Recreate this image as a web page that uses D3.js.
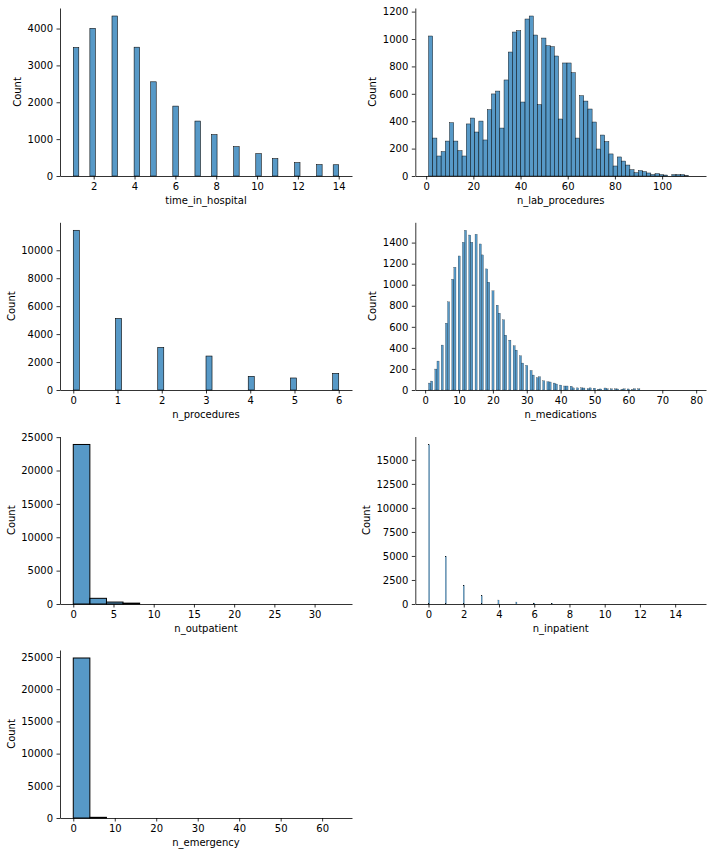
<!DOCTYPE html>
<html><head><meta charset="utf-8">
<script src="https://cdn.jsdelivr.net/npm/d3@7"></script>
<style>
body{margin:0;background:#fff}
svg text{font-family:"DejaVu Sans",sans-serif}
</style>
</head><body>
<svg id="chart" width="712" height="856"></svg>
<script>
// ---------------- DATA ----------------
// time_in_hospital: count per integer value
const timeValues = [1,2,3,4,5,6,7,8,9,10,11,12,13,14];
const timeCounts = [3485,4005,4340,3494,2555,1896,1490,1120,795,605,470,361,307,305];
const timeXTicks = [2,4,6,8,10,12,14];
const timeYTicks = [0,1000,2000,3000,4000];

// n_lab_procedures: counts per histogram bin (63 bins over 1..113)
const labRange = [1,113];
const labBinCounts = [1022,277,146,178,255,389,255,185,146,380,
  423,321,401,263,484,599,620,350,701,905,
  1051,1061,540,1146,1168,1029,521,1007,951,944,
  876,416,825,825,754,277,586,547,489,394,
  197,299,251,161,73,139,109,80,46,24,
  39,32,22,10,17,10,7,2,10,10,
  10,3,2];
const labXTicks = [0,20,40,60,80,100];
const labYTicks = [0,200,400,600,800,1000,1200];

// n_procedures: count per integer value
const procValues = [0,1,2,3,4,5,6];
const procCounts = [11430,5120,3050,2430,980,860,1190];
const procXTicks = [0,1,2,3,4,5,6];
const procYTicks = [0,2000,4000,6000,8000,10000];

// n_medications: count per integer value 1..79
const medValues = d3.range(1,80);
const medCounts = [66,85,199,275,427,635,837,1052,1166,1273,
  1403,1517,1472,1403,1479,1387,1283,1150,1024,942,
  806,730,667,521,474,420,379,325,256,234,
  186,142,117,126,88,79,76,66,57,47,
  38,38,36,20,20,21,19,13,20,18,
  8,10,19,11,11,11,10,6,11,10,
  4,12,11,3,2,2,1,2,1,1,
  0,1,0,1,1,0,0,0,1];
const medXTicks = [0,10,20,30,40,50,60,70,80];
const medYTicks = [0,200,400,600,800,1000,1200,1400];

// n_outpatient: counts per histogram bin (16 bins over 0..33)
const outRange = [0,33];
const outBinCounts = [23900,850,290,130,35,15,8,4,2,1,1,0,0,1,0,1];
const outXTicks = [0,5,10,15,20,25,30];
const outYTicks = [0,5000,10000,15000,20000,25000];

// n_inpatient: count per integer value 0..15
const inpValues = d3.range(0,16);
const inpCounts = [16600,4980,1972,865,415,207,104,69,30,20,12,8,5,3,2,1];
const inpXTicks = [0,2,4,6,8,10,12,14];
const inpYTicks = [0,2500,5000,7500,10000,12500,15000];

// n_emergency: counts per histogram bin (16 bins over 0..64)
const emgRange = [0,64];
const emgBinCounts = [24850,105,12,4,2,1,0,0,0,0,0,0,0,0,0,1];
const emgXTicks = [0,10,20,30,40,50,60];
const emgYTicks = [0,5000,10000,15000,20000,25000];

// ---------------- HELPERS ----------------
function binIntegers(values, counts, lo, hi, n) {
  const w = (hi - lo) / n;
  const agg = new Array(n).fill(0);
  values.forEach((v, i) => {
    let idx = Math.floor((v - lo) / w + 1e-9);
    if (idx >= n) idx = n - 1;
    agg[idx] += counts[i];
  });
  return agg.map((c, i) => ({x0: lo + i * w, x1: lo + (i + 1) * w, count: c}));
}
function binDirect(counts, lo, hi) {
  const n = counts.length, w = (hi - lo) / n;
  return counts.map((c, i) => ({x0: lo + i * w, x1: lo + (i + 1) * w, count: c}));
}

const svg = d3.select("#chart");
const cols = [[60, 352], [415.3, 706]];
const rows = [[8, 176], [222.3, 390], [436.5, 604], [650, 818]];

function panel(col, row, dataLo, dataHi, bins, xTicks, yTicks, xLabel) {
  const [x0, x1] = cols[col];
  const [y0, y1] = rows[row];
  const pad = 0.05 * (dataHi - dataLo);
  const x = d3.scaleLinear().domain([dataLo - pad, dataHi + pad]).range([x0, x1]);
  const yMax = d3.max(bins, d => d.count) * 1.05;
  const y = d3.scaleLinear().domain([0, yMax]).range([y1, y0]);
  const g = svg.append("g");

  const barPx = x(bins[0].x1) - x(bins[0].x0);
  const lw = Math.min(0.1 * barPx, 1);
  g.append("g").selectAll("rect")
    .data(bins.filter(d => d.count > 0 && (y(0) - y(d.count)) >= 0.35))
    .join("rect")
    .attr("x", d => x(d.x0))
    .attr("width", d => x(d.x1) - x(d.x0))
    .attr("y", d => y(d.count))
    .attr("height", d => y(0) - y(d.count))
    .attr("fill", "#1f77b4").attr("fill-opacity", 0.75)
    .attr("stroke", "#000").attr("stroke-width", lw);

  const xa = g.append("g").attr("transform", `translate(0,${y1})`)
    .call(d3.axisBottom(x).tickValues(xTicks).tickSize(3.5).tickPadding(3.5).tickSizeOuter(0).tickFormat(d3.format("d")));
  const ya = g.append("g").attr("transform", `translate(${x0},0)`)
    .call(d3.axisLeft(y).tickValues(yTicks).tickSize(3.5).tickPadding(3.5).tickSizeOuter(0).tickFormat(d3.format("d")));
  [xa, ya].forEach(a => {
    a.attr("font-family", "DejaVu Sans").attr("font-size", 10);
    a.selectAll("path,line").attr("stroke", "#000").attr("stroke-width", 0.8);
    a.selectAll("text").attr("fill", "#000");
  });

  let minX = Infinity;
  ya.selectAll("text").each(function() {
    const b = this.getBBox();
    minX = Math.min(minX, x0 + b.x);
  });
  g.append("text")
    .attr("transform", `translate(${minX - 6.4},${(y0 + y1) / 2}) rotate(-90)`)
    .attr("text-anchor", "middle").attr("font-size", 10).attr("fill", "#000")
    .text("Count");
  g.append("text")
    .attr("x", (x0 + x1) / 2).attr("y", y1 + 28)
    .attr("text-anchor", "middle").attr("font-size", 10).attr("fill", "#000")
    .text(xLabel);
}

panel(0, 0, 1, 14, binIntegers(timeValues, timeCounts, 1, 14, 48), timeXTicks, timeYTicks, "time_in_hospital");
panel(1, 0, labRange[0], labRange[1], binDirect(labBinCounts, labRange[0], labRange[1]), labXTicks, labYTicks, "n_lab_procedures");
panel(0, 1, 0, 6, binIntegers(procValues, procCounts, 0, 6, 44), procXTicks, procYTicks, "n_procedures");
panel(1, 1, 1, 79, binIntegers(medValues, medCounts, 1, 79, 125), medXTicks, medYTicks, "n_medications");
panel(0, 2, outRange[0], outRange[1], binDirect(outBinCounts, outRange[0], outRange[1]), outXTicks, outYTicks, "n_outpatient");
panel(1, 2, 0, 15, binIntegers(inpValues, inpCounts, 0, 15, 221), inpXTicks, inpYTicks, "n_inpatient");
panel(0, 3, emgRange[0], emgRange[1], binDirect(emgBinCounts, emgRange[0], emgRange[1]), emgXTicks, emgYTicks, "n_emergency");
</script>
</body></html>
